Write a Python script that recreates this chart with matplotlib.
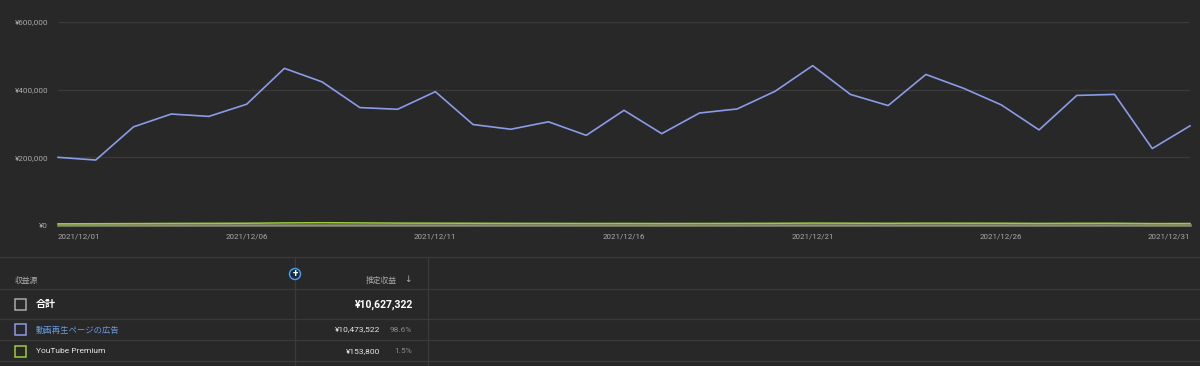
import numpy as np
import matplotlib
matplotlib.use("Agg")
from matplotlib import pyplot as plt
from matplotlib.patches import Rectangle, Circle

# daily revenue, December 2021 (yen)
days = list(range(1, 32))
ad_revenue = [200000, 192000, 290000, 328000, 321000, 357000, 463000, 423000, 347000, 342000,
              394000, 297000, 283000, 305000, 265000, 339000, 270000, 331000, 343000, 395000,
              471000, 386000, 353000, 445000, 404000, 355000, 281000, 383000, 386000, 226000,
              293000]
premium_revenue = [3500, 3800, 4200, 4600, 4900, 5200, 6200, 6800, 6200, 5600,
                   5400, 5100, 4800, 4700, 4500, 4600, 4400, 4500, 4700, 5000,
                   5600, 5300, 5000, 5400, 5300, 5200, 4600, 5000, 5100, 4200,
                   4400]
tick_days = [1, 6, 11, 16, 21, 26, 31]
tick_labels = ["2021/12/%02d" % d for d in tick_days]
y_ticks = [0, 200000, 400000, 600000]

# table rows
row_names = ["動画再生ページの広告", "YouTube Premium"]
row_values = ["¥10,473,522", "¥153,800"]
row_shares = ["98.6%", "1.5%"]
total_value = "¥10,627,322"

BG = "#282828"
GRID = "#3a3a3a"
BLUE = "#8a9be8"
GREEN = "#9ccc3c"
FONT = ["Roboto", "Noto Sans CJK JP", "DejaVu Sans"]
plt.rcParams["font.family"] = FONT

W, H = 1200, 366
fig = plt.figure(figsize=(12, 3.66), dpi=100, facecolor=BG)

# chart
ax = fig.add_axes([58 / W, (H - 225) / H, (1190 - 58) / W, (225 - 22) / H])
ax.set_facecolor(BG)
ax.set_xlim(1, 31)
ax.set_ylim(0, 600000)
for s in ax.spines.values():
    s.set_visible(False)
ax.set_yticks(y_ticks)
ax.set_yticklabels(["¥{:,}".format(v) for v in y_ticks])
ax.yaxis.grid(True, color=GRID, lw=0.9)
ax.set_axisbelow(True)
ax.tick_params(axis="y", length=0, pad=7, labelsize=5.9, labelcolor="#aaaaaa")
ax.set_xticks(tick_days)
ax.set_xticklabels(tick_labels)
ax.tick_params(axis="x", length=0, pad=6, labelsize=5.7, labelcolor="#aaaaaa")
xl = ax.get_xticklabels()
xl[0].set_ha("left")
xl[-1].set_ha("right")

ax.axhline(0, color="#8c8c74", lw=1.8, zorder=2, clip_on=False)
ax.plot(days, premium_revenue, color=GREEN, lw=1.1, zorder=3, clip_on=False)
ax.plot(days, ad_revenue, color=BLUE, lw=1.2, zorder=4, clip_on=False)

# table overlay in pixel coordinates
ov = fig.add_axes([0, 0, 1, 1])
ov.set_xlim(0, W)
ov.set_ylim(H, 0)
ov.axis("off")
ov.patch.set_alpha(0)

for y in [257, 289, 319, 340, 361]:
    ov.plot([0, W], [y, y], color=GRID, lw=0.9)
for x in [295, 428]:
    ov.plot([x, x], [257, H], color=GRID, lw=0.9)

ov.text(15, 280, "収益源", color="#aaaaaa", fontsize=5.6, va="center", ha="left")
ov.add_patch(Circle((295, 274), 5.5, facecolor="#1f2a38", edgecolor="#3ea6ff", lw=1.0, zorder=5))
ov.text(295, 274.3, "+", color="#ffffff", fontsize=7, fontweight="bold", ha="center", va="center", zorder=6)
ov.text(397, 280, "推定収益", color="#aaaaaa", fontsize=5.6, va="center", ha="right")
ov.text(408, 280, "↓", color="#aaaaaa", fontsize=6.5, va="center", ha="center",
        family=["DejaVu Sans"])

# total row
ov.add_patch(Rectangle((15, 299), 11, 11, facecolor="none", edgecolor="#aaaaaa", lw=1.1))
ov.text(36, 304.5, "合計", color="#ffffff", fontsize=7.2, fontweight="bold", va="center", ha="left")
ov.text(413, 304.5, total_value, color="#ffffff", fontsize=7.5, fontweight="bold", va="center", ha="right")

row_y = [329.5, 351]
box_colors = [BLUE, GREEN]
name_colors = ["#6a9be0", "#e6e6e6"]
for y, name, val, share, bc, nc in zip(row_y, row_names, row_values, row_shares, box_colors, name_colors):
    ov.add_patch(Rectangle((15, y - 5.5), 11, 11, facecolor="none", edgecolor=bc, lw=1.1))
    ov.text(36, y, name, color=nc, fontsize=6, va="center", ha="left")
    ov.text(380, y, val, color="#e6e6e6", fontsize=6, va="center", ha="right")
    ov.text(412, y, share, color="#8a8a8a", fontsize=6, va="center", ha="right")

fig.savefig("out.png", dpi=100, facecolor=BG)
